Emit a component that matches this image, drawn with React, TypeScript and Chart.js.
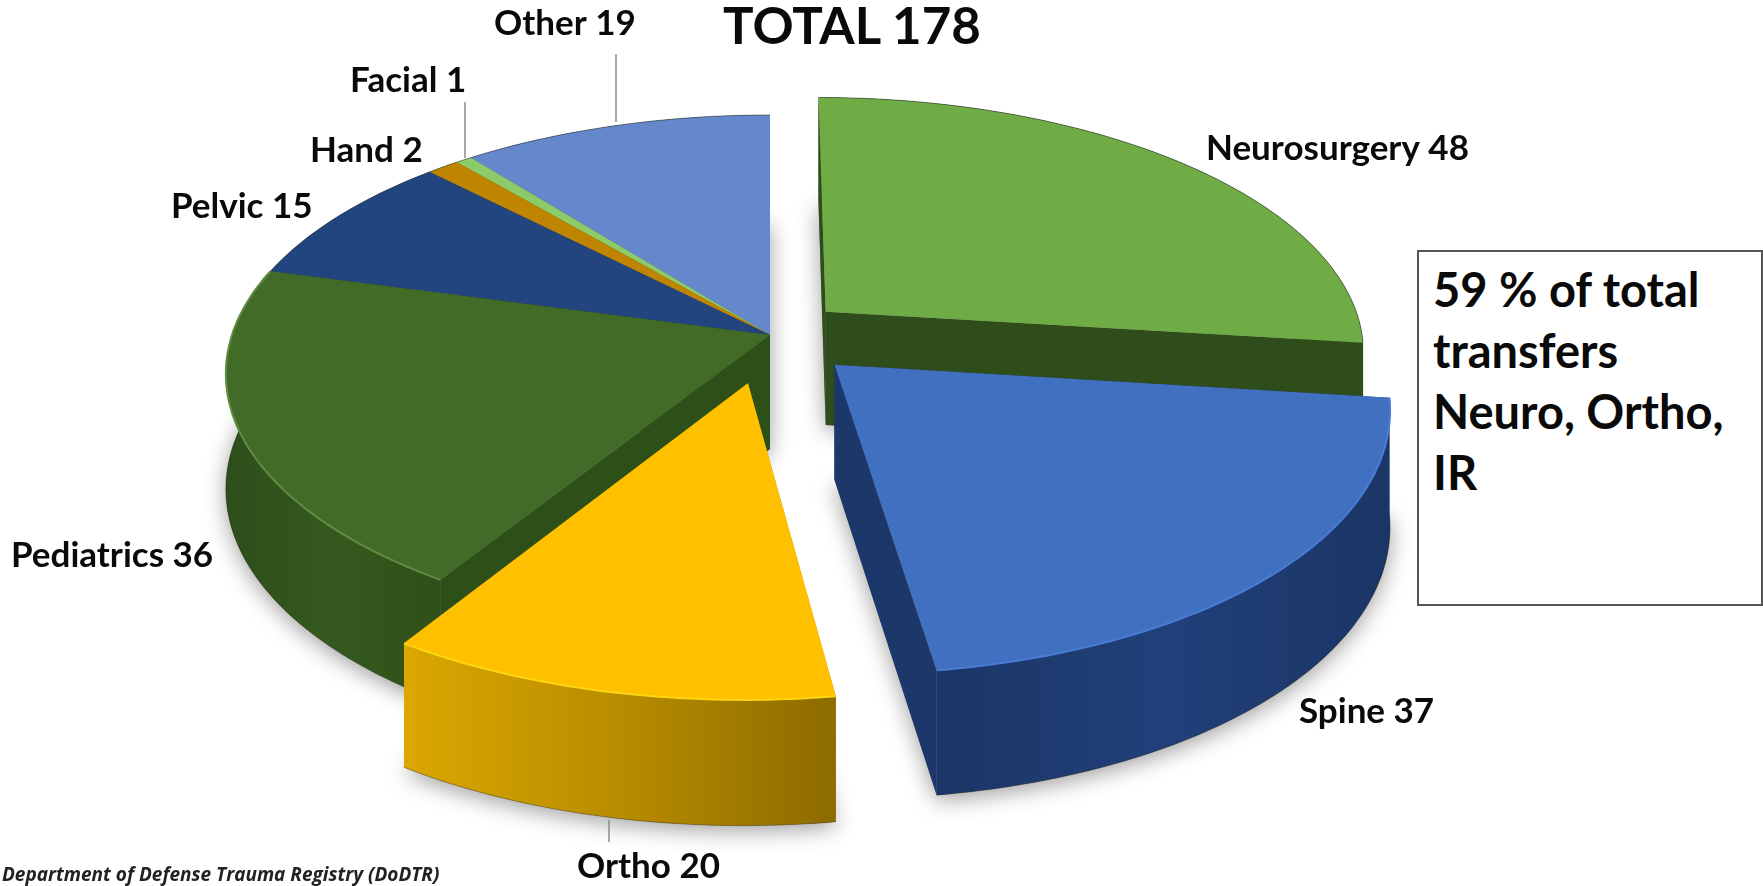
import React, { useEffect, useRef } from "react";
import { Chart, registerables } from "chart.js";

Chart.register(...registerables);

// ---- data ----
const categories = ["Neurosurgery", "Spine", "Ortho", "Pediatrics", "Pelvic", "Hand", "Facial", "Other"];
const transfers = [48, 37, 20, 36, 15, 2, 1, 19];
const titleText = "TOTAL 178";
const noteLines = ["59 % of total", "transfers", "Neuro, Ortho,", "IR"];
const sourceText = "Department of Defense Trauma Registry (DoDTR)";

// ---- styles ----
const topColors = ["#6FAC46", "#4170C0", "#FFC000", "#426B27", "#23457F", "#BF8400", "#8CCB6A", "#6587CB"];
const sideColors = [
  ["#2F4D1A", "#2F4D1A"],
  ["#1B3566", "#21407A", "#1B3566"],
  ["#DBA700", "#B88C00", "#8C6B00"],
  ["#2D4E1A", "#35591E", "#2F5019"],
  ["#1B3566", "#1B3566"],
  ["#8C6B00", "#8C6B00"],
  ["#5E8F40", "#5E8F40"],
  ["#3F5F9C", "#3F5F9C"],
];
const radialColors = ["#2F4D1A", "#1C3769", "#C39400", "#2D5019", "#1B3566", "#8C6B00", "#5E8F40", "#3F5F9C"];
const rimLights = ["", "#4A7CD6", "#FFD514", "#5E8C40", "", "", "", ""];
const bottomEdges = [false, true, true, true, false, false, false, false];
const explodeOffsets = [14, 16.5, 19, 0, 0, 0, 0, 0];
const paintOrder = [0, 7, 6, 5, 4, 3, 1, 2];

// label layout: [left x, middle y]
const labelSpots = [
  [1206, 149], [1299, 712], [577, 867], [11, 556], [171, 207], [310, 151], [350, 81], [494, 24],
];
const leaderLines = [
  [616, 54, 616, 122],
  [465, 102, 465, 158],
  [609, 820, 609, 842],
];

// view geometry of the tilted disc
const VIEW = { cx: 770, cy: 335, rx: 538, ry: 253, persp: 0.15, depth: 114 };

const project = (X: number, Z: number, drop = 0): [number, number] => {
  const s = 1 / (1 - VIEW.persp * Z);
  return [VIEW.cx + VIEW.rx * X * s, VIEW.cy + VIEW.ry * Z * s + drop * Math.sqrt(s)];
};

const sliceGeometry = (arc: any) => {
  const { startAngle, endAngle } = arc.getProps(["startAngle", "endAngle"], true);
  const mid = (startAngle + endAngle) / 2;
  const off = (arc.options.offset || 0) / 100;
  const ox = Math.cos(mid) * off;
  const oz = Math.sin(mid) * off;
  const n = Math.max(2, Math.ceil(((endAngle - startAngle) * 180) / Math.PI));
  const rim: [number, number][] = [];
  for (let i = 0; i <= n; i++) {
    const a = startAngle + ((endAngle - startAngle) * i) / n;
    rim.push([ox + Math.cos(a), oz + Math.sin(a)]);
  }
  return { apex: [ox, oz] as [number, number], rim };
};

const tracePoly = (ctx: CanvasRenderingContext2D, pts: [number, number][]) => {
  ctx.beginPath();
  pts.forEach((p, i) => (i ? ctx.lineTo(p[0], p[1]) : ctx.moveTo(p[0], p[1])));
  ctx.closePath();
};

const pie3d = {
  id: "pie3d",
  beforeDatasetsDraw(chart: any) {
    const ctx: CanvasRenderingContext2D = chart.ctx;
    const meta = chart.getDatasetMeta(0);
    const geos = meta.data.map(sliceGeometry);
    const d = VIEW.depth;

    ctx.save();
    // soft shadow pass
    ctx.shadowColor = "rgba(0,0,0,0.38)";
    ctx.shadowBlur = 22;
    ctx.shadowOffsetX = 0;
    ctx.shadowOffsetY = 5;
    ctx.fillStyle = "#888";
    paintOrder.forEach((i) => {
      const g = geos[i];
      const low = [g.apex, ...g.rim].map((p) => project(p[0], p[1], d));
      tracePoly(ctx, low);
      ctx.fill();
    });
    ctx.restore();

    paintOrder.forEach((i) => {
      const g = geos[i];
      const top = [g.apex, ...g.rim].map((p) => project(p[0], p[1]));
      const apexT = project(g.apex[0], g.apex[1]);
      const apexB = project(g.apex[0], g.apex[1], d);
      const rimT = g.rim.map((p) => project(p[0], p[1]));
      const rimB = g.rim.map((p) => project(p[0], p[1], d));

      // radial walls
      ctx.fillStyle = radialColors[i];
      [0, rimT.length - 1].forEach((k) => {
        tracePoly(ctx, [apexT, rimT[k], rimB[k], apexB]);
        ctx.fill();
      });

      // outer wall
      const xs = rimT.map((p) => p[0]);
      const grad = ctx.createLinearGradient(Math.min(...xs), 0, Math.max(...xs), 0);
      sideColors[i].forEach((c, k, all) => grad.addColorStop(k / (all.length - 1), c));
      ctx.fillStyle = grad;
      tracePoly(ctx, [...rimT, ...rimB.slice().reverse()]);
      ctx.fill();
      if (bottomEdges[i]) {
        ctx.strokeStyle = "rgba(40,30,0,0.35)";
        ctx.lineWidth = 1;
        ctx.beginPath();
        rimB.forEach((p, k) => (k ? ctx.lineTo(p[0], p[1]) : ctx.moveTo(p[0], p[1])));
        ctx.stroke();
      }

      // top face
      ctx.fillStyle = topColors[i];
      tracePoly(ctx, top);
      ctx.fill();

      // rim line
      ctx.beginPath();
      rimT.forEach((p, k) => (k ? ctx.lineTo(p[0], p[1]) : ctx.moveTo(p[0], p[1])));
      if (rimLights[i]) {
        ctx.strokeStyle = rimLights[i];
        ctx.lineWidth = 2;
      } else {
        ctx.strokeStyle = "rgba(40,50,40,0.55)";
        ctx.lineWidth = 1;
      }
      ctx.stroke();
    });

    return false;
  },
  afterDraw(chart: any) {
    const ctx: CanvasRenderingContext2D = chart.ctx;
    ctx.save();
    ctx.strokeStyle = "#8a8a8a";
    ctx.lineWidth = 1.5;
    leaderLines.forEach(([a, b, c, e]) => {
      ctx.beginPath();
      ctx.moveTo(a, b);
      ctx.lineTo(c, e);
      ctx.stroke();
    });
    ctx.fillStyle = "#0a0a0a";
    ctx.font = "bold 35px Lato";
    ctx.textAlign = "left";
    ctx.textBaseline = "middle";
    categories.forEach((name, i) => {
      ctx.fillText(`${name} ${transfers[i]}`, labelSpots[i][0], labelSpots[i][1]);
    });
    ctx.restore();
  },
};

export default function App() {
  const ref = useRef<HTMLCanvasElement>(null);
  useEffect(() => {
    document.body.style.margin = "0";
    const chart = new Chart(ref.current!, {
      type: "pie",
      data: {
        labels: categories,
        datasets: [{ data: transfers, backgroundColor: topColors, offset: explodeOffsets, borderWidth: 0 }],
      },
      options: {
        responsive: false,
        animation: false,
        plugins: { legend: { display: false }, tooltip: { enabled: false }, title: { display: false } },
      },
      plugins: [pie3d],
    } as any);
    return () => chart.destroy();
  }, []);

  return (
    <div style={{ position: "relative", width: 1763, height: 886, overflow: "hidden", background: "#fff", fontFamily: "Lato", filter: "blur(0.6px)" }}>
      <canvas ref={ref} width={1763} height={886} style={{ position: "absolute", left: 0, top: 0 }} />
      <div style={{ position: "absolute", left: 723, top: -6, fontSize: 51, lineHeight: "62px", fontWeight: 700, color: "#0a0a0a", whiteSpace: "nowrap" }}>{titleText}</div>
      <div style={{ position: "absolute", left: 1417, top: 250, width: 342, height: 352, border: "2px solid #555", background: "#fff", boxSizing: "content-box" }}>
        {noteLines.map((t, i) => (
          <div key={t} style={{ position: "absolute", left: 14, top: 7 + i * 61, fontSize: 47, lineHeight: "61px", fontWeight: 700, color: "#0a0a0a", whiteSpace: "nowrap" }}>{t}</div>
        ))}
      </div>
      <div style={{ position: "absolute", left: 2, top: 862, fontFamily: "'Open Sans'", fontStyle: "italic", fontWeight: 700, fontSize: 19, lineHeight: "24px", color: "#222", whiteSpace: "nowrap" }}>{sourceText}</div>
    </div>
  );
}
